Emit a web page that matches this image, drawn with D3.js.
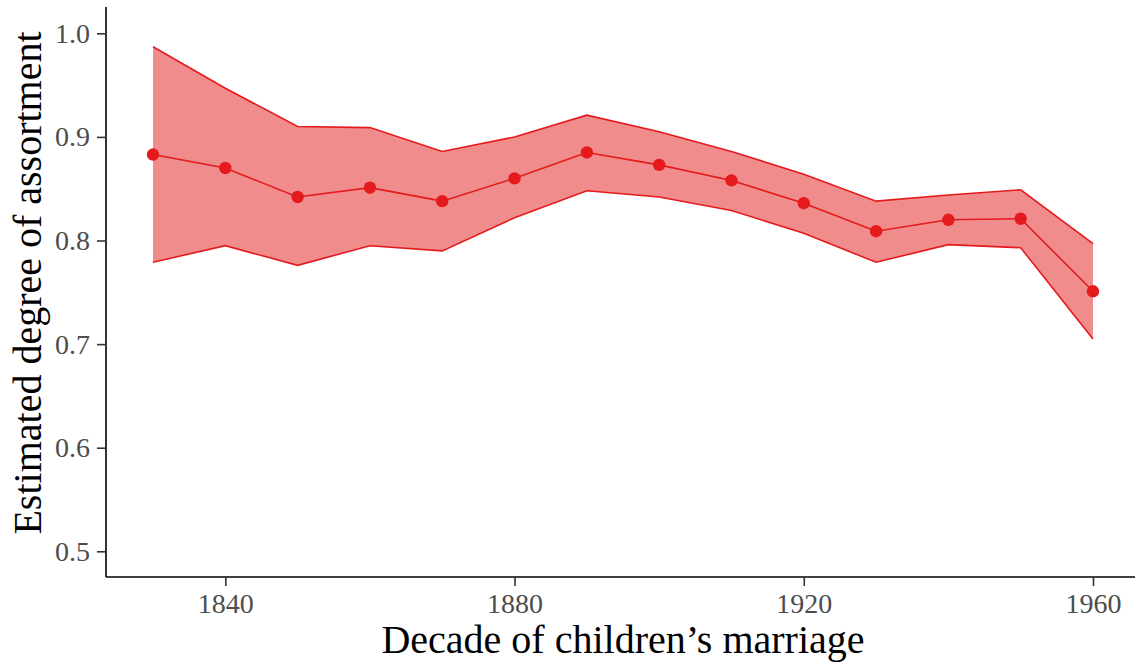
<!DOCTYPE html>
<html lang="en">
<head>
  <meta charset="UTF-8">
  <title>Assortment by decade</title>
  <style>
    body { margin: 0; background: #fff; }
    text { font-family: 'Liberation Serif', 'DejaVu Serif', serif; }
  </style>
</head>
<body>
  <svg id="svg" width="1135" height="662"></svg>

  <script src="https://d3js.org/d3.v7.min.js"></script>
  <script>
    // decades and estimates
    const decades = [1830, 1840, 1850, 1860, 1870, 1880, 1890, 1900, 1910, 1920, 1930, 1940, 1950, 1960]
    const estimate = [0.883, 0.870, 0.842, 0.851, 0.838, 0.860, 0.885, 0.873, 0.858, 0.836, 0.809, 0.820, 0.821, 0.751]
    const upper = [0.987, 0.947, 0.910, 0.909, 0.886, 0.900, 0.921, 0.905, 0.886, 0.864, 0.838, 0.844, 0.849, 0.797]
    const lower = [0.779, 0.795, 0.776, 0.795, 0.790, 0.822, 0.848, 0.842, 0.829, 0.807, 0.779, 0.796, 0.793, 0.705]
    const xTicks = [1840, 1880, 1920, 1960]
    const yTicks = [0.5, 0.6, 0.7, 0.8, 0.9, 1.0]

    const data = decades.map((d, i) => ({ decade: d, est: estimate[i], hi: upper[i], lo: lower[i] }))

    const panelLeft = 106, panelRight = 1133, panelTop = 7, panelBottom = 577
    const red = '#E41A1C'

    const xScale = d3.scaleLinear()
      .domain([1823.5, 1966.5])
      .range([panelLeft, panelRight + 7])

    const yScale = d3.scaleLinear()
      .domain([0.4752, 1.0254])
      .range([panelBottom, panelTop])

    const svg = d3.select('#svg')

    // ribbon
    svg.append('path')
      .datum(data)
      .attr('d', d3.area()
        .x(d => xScale(d.decade))
        .y0(d => yScale(d.lo))
        .y1(d => yScale(d.hi)))
      .attr('fill', red)
      .attr('fill-opacity', 0.5)

    // ribbon edges
    ;['hi', 'lo'].forEach(k => {
      svg.append('path')
        .datum(data)
        .attr('d', d3.line().x(d => xScale(d.decade)).y(d => yScale(d[k])))
        .attr('fill', 'none')
        .attr('stroke', red)
        .attr('stroke-width', 1.6)
    })

    // mean line
    svg.append('path')
      .datum(data)
      .attr('d', d3.line().x(d => xScale(d.decade)).y(d => yScale(d.est)))
      .attr('fill', 'none')
      .attr('stroke', red)
      .attr('stroke-width', 1.6)

    svg.selectAll('circle')
      .data(data)
      .enter()
      .append('circle')
      .attr('cx', d => xScale(d.decade))
      .attr('cy', d => yScale(d.est))
      .attr('r', 6.2)
      .attr('fill', red)

    // axes
    const xAxis = svg.append('g')
      .attr('transform', `translate(0,${panelBottom})`)
      .call(d3.axisBottom(xScale).tickValues(xTicks).tickSize(9).tickPadding(7).tickFormat(d3.format('d')))
    xAxis.select('.domain').attr('d', `M${panelLeft},0H${panelRight + 2}`)

    const yAxis = svg.append('g')
      .attr('transform', `translate(${panelLeft},0)`)
      .call(d3.axisLeft(yScale).tickValues(yTicks).tickSize(9).tickPadding(7).tickFormat(d3.format('.1f')))
    yAxis.select('.domain').attr('d', `M0,${panelTop}V${panelBottom}`)

    svg.selectAll('.domain').attr('stroke', '#000').attr('stroke-width', 1.6)
    svg.selectAll('.tick line').attr('stroke', '#333').attr('stroke-width', 1.6)
    svg.selectAll('.tick text')
      .attr('fill', '#4D4D4D')
      .style('font-size', '28px')
      .style('font-family', "'Liberation Serif', 'DejaVu Serif', serif")

    // titles
    svg.append('text')
      .attr('x', 623)
      .attr('y', 653)
      .attr('text-anchor', 'middle')
      .style('font-size', '40px')
      .text('Decade of children’s marriage')

    svg.append('text')
      .attr('transform', 'translate(41,283) rotate(-90)')
      .attr('text-anchor', 'middle')
      .style('font-size', '40px')
      .text('Estimated degree of assortment')
  </script>
</body>
</html>
